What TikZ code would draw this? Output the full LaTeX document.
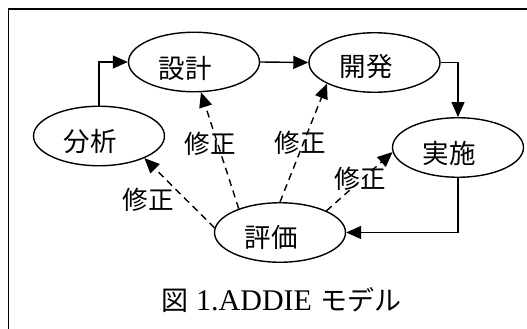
\documentclass[tikz,border=0pt]{standalone}
\usepackage{fontspec}
\newfontfamily\jp{Noto Sans CJK JP}
\newfontfamily\tms{Liberation Serif}
\usetikzlibrary{arrows.meta,shapes.geometric}
\tikzset{
  stage/.style={draw, ellipse, line width=1.4pt, minimum width=131pt, minimum height=59.5pt, inner sep=0pt},
  stagetext/.style={inner sep=0pt, font=\jp\fontsize{26.5pt}{26.5pt}\selectfont},
  fixlabel/.style={inner sep=0pt, font=\jp\fontsize{25.5pt}{25.5pt}\selectfont},
  flow/.style={line width=1.4pt, -{Triangle[length=15pt,width=13pt]}},
  fix/.style={line width=1.4pt, dash pattern=on 7pt off 5pt, -{Triangle[length=15pt,width=13pt]}},
}
\begin{document}
\begin{tikzpicture}[x=1pt,y=-1pt]
\useasboundingbox (0,0) rectangle (527,329);
\fill[white] (0,0) rectangle (527,329);
% frame
\coordinate (fr1) at (527,9);
\coordinate (fr2) at (8.5,9);
\coordinate (fr3) at (8.5,329);
\draw[line width=1.5pt] (fr1) -- (fr2) -- (fr3);
% stages
\node[stage] (bun) at (99,136) {};
\node[stage] (sek) at (194,62) {};
\node[stage] (kai) at (374.5,62.5) {};
\node[stage] (jis) at (458,147.5) {};
\node[stage] (hyo) at (280,232.5) {};
\node[stagetext] (tbun) at (90,141.5) {分析};
\node[stagetext] (tsek) at (185,68) {設計};
\node[stagetext] (tkai) at (366,67) {開発};
\node[stagetext] (tjis) at (449,153) {実施};
\node[stagetext] (thyo) at (271,237) {評価};
% main flow
\draw[flow] (bun.north) |- (sek.west);
\draw[flow] (sek.east) -- (kai.west);
\draw[flow] (kai.east) -| (jis.north);
\draw[flow] (jis.south) |- (hyo.east);
% revision arrows
\draw[fix] (hyo.176) -- (bun.-26);
\draw[fix] (hyo.150) -- (sek.-77);
\draw[fix] (hyo.90) -- (kai.204);
\draw[fix] (hyo.25) -- (jis.184);
% labels
\node[fixlabel] (l1) at (148,200) {修正};
\node[fixlabel] (l2) at (210,144) {修正};
\node[fixlabel] (l3) at (300,143) {修正};
\node[fixlabel] (l4) at (360,179) {修正};
% caption
\node[inner sep=0pt, anchor=base west] (cap) at (161,310) {\jp\fontsize{27pt}{27pt}\selectfont 図\hspace{8pt}{\tms\fontsize{30pt}{30pt}\selectfont 1.ADDIE}\hspace{8pt}モデル};
\end{tikzpicture}
\end{document}
